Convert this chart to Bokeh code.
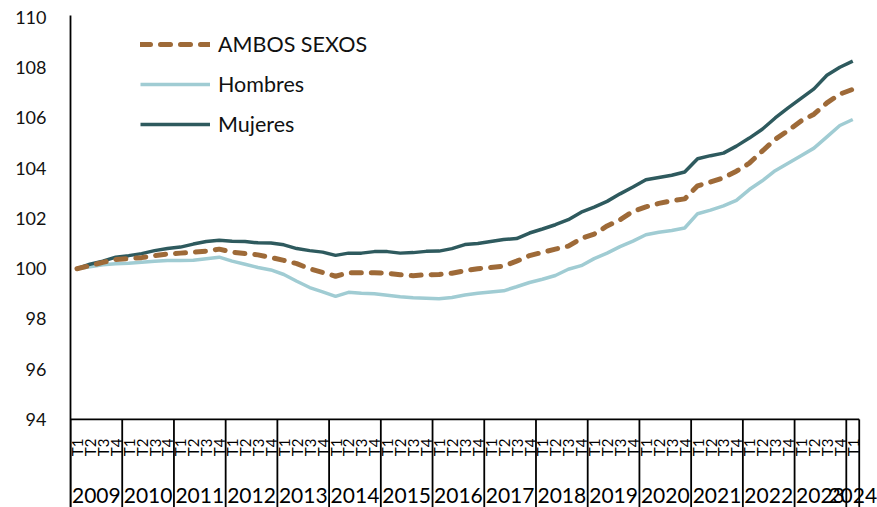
import math
from bokeh.plotting import figure
from bokeh.models import Range1d, FixedTicker, Legend, LegendItem, ColumnDataSource
from bokeh.core.properties import value
from bokeh.embed import file_html
from bokeh.resources import INLINE

# ---------------- data ----------------
years = [2009, 2010, 2011, 2012, 2013, 2014, 2015, 2016,
         2017, 2018, 2019, 2020, 2021, 2022, 2023, 2024]
quarters = ["T1", "T2", "T3", "T4"]

ambos = [100.0, 100.12, 100.25, 100.37, 100.4, 100.44, 100.52, 100.58,
         100.62, 100.66, 100.7, 100.78, 100.66, 100.6, 100.55, 100.45,
         100.33, 100.2, 100.0, 99.85, 99.7, 99.84, 99.84, 99.84,
         99.82, 99.76, 99.72, 99.76, 99.77, 99.82, 99.92, 100.0,
         100.05, 100.1, 100.3, 100.52, 100.65, 100.78, 100.9, 101.2,
         101.38, 101.7, 101.95, 102.28, 102.46, 102.6, 102.7, 102.78,
         103.3, 103.45, 103.62, 103.88, 104.2, 104.68, 105.15, 105.5,
         105.88, 106.15, 106.6, 106.95, 107.14]

hombres = [100.0, 100.08, 100.16, 100.2, 100.22, 100.26, 100.3, 100.33,
           100.33, 100.34, 100.4, 100.46, 100.3, 100.18, 100.05, 99.95,
           99.77, 99.5, 99.25, 99.08, 98.9, 99.06, 99.02, 99.0,
           98.94, 98.88, 98.84, 98.82, 98.8, 98.85, 98.95, 99.02,
           99.07, 99.12, 99.28, 99.45, 99.58, 99.73, 99.98, 100.12,
           100.4, 100.62, 100.88, 101.1, 101.35, 101.45, 101.52, 101.62,
           102.19, 102.33, 102.5, 102.72, 103.15, 103.5, 103.9, 104.2,
           104.5, 104.8, 105.25, 105.7, 105.94]

mujeres = [100.0, 100.18, 100.3, 100.46, 100.52, 100.6, 100.72, 100.8,
           100.86, 100.98, 101.08, 101.13, 101.09, 101.08, 101.03, 101.02,
           100.95, 100.8, 100.72, 100.66, 100.53, 100.62, 100.62, 100.68,
           100.68, 100.62, 100.64, 100.69, 100.7, 100.8, 100.96, 101.0,
           101.08, 101.16, 101.2, 101.42, 101.58, 101.75, 101.95, 102.25,
           102.45, 102.68, 102.98, 103.25, 103.54, 103.63, 103.72, 103.85,
           104.38, 104.5, 104.6, 104.88, 105.2, 105.55, 106.0, 106.4,
           106.78, 107.16, 107.7, 108.02, 108.26]

y_ticks = [94, 96, 98, 100, 102, 104, 106, 108, 110]
series_names = ["AMBOS SEXOS", "Hombres", "Mujeres"]

# ---------------- derived ----------------
n = len(ambos)
xs = list(range(n))
period_year = [years[i // len(quarters)] for i in range(n)]
period_q = [quarters[i % len(quarters)] for i in range(n)]

C_AMBOS = "#9E6A38"
C_HOM = "#A0CCD3"
C_MUJ = "#2E5A5E"
FONT = "Lato"

W, H = 877, 507
LEFT, TOP = 70, 15
px_per_unit = 25.12
px_per_q = 12.93
frame_h = H - TOP
frame_w = W - LEFT
ymin_axis = y_ticks[0]
y_top = y_ticks[-1] + 2 / px_per_unit
y_bot = y_top - frame_h / px_per_unit
x_start = xs[0] - 0.5
x_end = x_start + frame_w / px_per_q

p = figure(width=W, height=H,
           x_range=Range1d(x_start, x_end), y_range=Range1d(y_bot, y_top),
           output_backend="svg", toolbar_location=None,
           x_axis_location=None,
           min_border_left=LEFT, min_border_right=0,
           min_border_top=TOP, min_border_bottom=0)
p.grid.visible = False
p.outline_line_color = None
p.background_fill_color = "white"
p.border_fill_color = "white"

ya = p.yaxis[0]
ya.ticker = FixedTicker(ticks=y_ticks)
ya.major_tick_out = 0
ya.major_tick_in = 0
ya.minor_tick_out = 0
ya.minor_tick_in = 0
ya.axis_line_color = "black"
ya.axis_line_width = 1.8
ya.major_label_standoff = 24
ya.major_label_text_font = FONT
ya.major_label_text_font_size = "18px"
ya.major_label_text_color = "#111111"

# category band: horizontal line at the bottom of the value axis + year separators
last_x = xs[-1] + 0.5
p.segment(x0=[x_start], y0=[ymin_axis], x1=[last_x], y1=[ymin_axis],
          line_color="black", line_width=1.8)
sep_x = [i - 0.5 for i in xs if i % len(quarters) == 0] + [last_x]
p.segment(x0=sep_x, y0=[ymin_axis] * len(sep_x), x1=sep_x, y1=[y_bot - 1] * len(sep_x),
          line_color="black", line_width=1.8)

# quarter labels (rotated)
q_y = ymin_axis - 28 / px_per_unit
p.text(x=xs, y=[q_y] * n, text=period_q, angle=math.pi / 2,
       text_align="center", text_baseline="middle",
       text_font=value(FONT), text_font_size="15px", text_color="black")

# year labels centred in each year block
year_x = []
for yv in years:
    idx = [i for i in xs if period_year[i] == yv]
    year_x.append(sum(idx) / len(idx))
yr_y = ymin_axis - 76 / px_per_unit
p.text(x=year_x, y=[yr_y] * len(years), text=[str(v) for v in years],
       text_align="center", text_baseline="alphabetic",
       text_font=value(FONT), text_font_size="21px", text_color="black")

# series
src = ColumnDataSource(dict(x=xs, ambos=ambos, hombres=hombres, mujeres=mujeres))
r_h = p.line("x", "hombres", source=src, line_color=C_HOM, line_width=3.5)
r_m = p.line("x", "mujeres", source=src, line_color=C_MUJ, line_width=3.5)
r_a = p.line("x", "ambos", source=src, line_color=C_AMBOS, line_width=5,
             line_dash="10 10", line_cap="round")

legend = Legend(items=[LegendItem(label=series_names[0], renderers=[r_a]),
                       LegendItem(label=series_names[1], renderers=[r_h]),
                       LegendItem(label=series_names[2], renderers=[r_m])],
                location=(70, 370), orientation="vertical",
                glyph_width=70, glyph_height=26, label_height=26,
                label_standoff=8, spacing=14, padding=0, margin=0,
                border_line_color=None, background_fill_alpha=0,
                label_text_font=FONT, label_text_font_size="21.5px",
                label_text_color="#111111")
p.add_layout(legend)

open("out.html", "w").write(file_html(p, INLINE))
